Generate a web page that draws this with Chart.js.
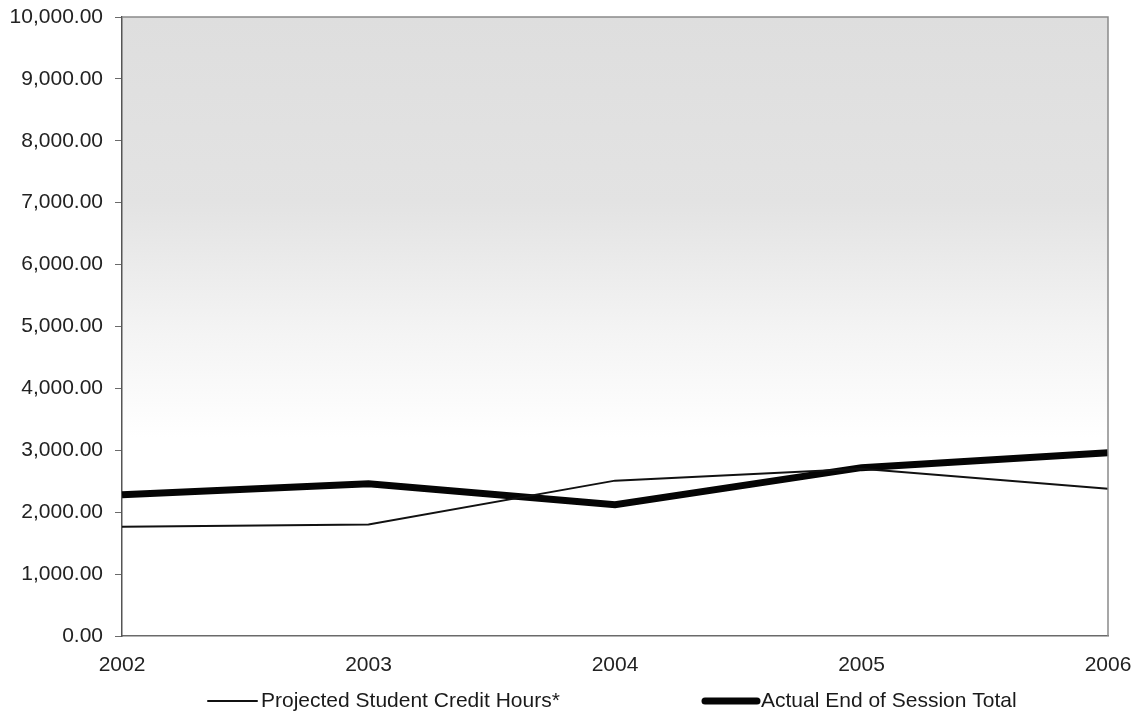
<!DOCTYPE html>
<html>
<head>
<meta charset="utf-8">
<script src="https://cdn.jsdelivr.net/npm/chart.js@4.4.1/dist/chart.umd.min.js"></script>
<style>
  html, body { margin: 0; padding: 0; background: #ffffff; }
  #grafica { display: block; }
</style>
</head>
<body>
<canvas id="grafica" width="1133" height="711"></canvas>
<script>
    // Datos de la gráfica
    const anios = ["2002", "2003", "2004", "2005", "2006"];
    const horasProyectadas = [1765, 1800, 2510, 2700, 2380];
    const totalFinalSesion = [2280, 2460, 2120, 2720, 2960];
    const etiquetasSeries = ["Projected Student Credit Hours*", "Actual End of Session Total"];

    const fuente = '"Liberation Sans", Arial, sans-serif';

    // Fondo degradado del área de la gráfica y su borde
    const fondoArea = {
        id: 'fondoArea',
        beforeDraw(chart) {
            const { ctx, chartArea: a } = chart;
            const g = ctx.createLinearGradient(0, a.top, 0, a.bottom);
            g.addColorStop(0, '#dedede');
            g.addColorStop(0.3, '#e3e3e3');
            g.addColorStop(0.5, '#f3f3f3');
            g.addColorStop(0.68, '#ffffff');
            g.addColorStop(1, '#ffffff');
            ctx.save();
            ctx.fillStyle = g;
            ctx.fillRect(a.left, a.top, a.right - a.left, a.bottom - a.top);
            ctx.restore();
        },
        afterDatasetsDraw(chart) {
            const { ctx, chartArea: a } = chart;
            ctx.save();
            ctx.strokeStyle = '#8a8a8a';
            ctx.lineWidth = 1.5;
            ctx.beginPath();
            ctx.moveTo(a.left, a.top);
            ctx.lineTo(a.right, a.top);
            ctx.lineTo(a.right, a.bottom);
            ctx.stroke();
            ctx.restore();
        }
    };

    // Leyenda dibujada a mano, como en la original (dos elementos muy separados)
    const posLeyenda = [{ x: 208, ancho: 49 }, { x: 705, ancho: 52 }];
    const leyenda = {
        id: 'leyenda',
        afterDraw(chart) {
            const ctx = chart.ctx;
            const y = 701;
            ctx.save();
            ctx.font = '21px ' + fuente;
            ctx.textBaseline = 'middle';
            ctx.fillStyle = '#1a1a1a';
            chart.data.datasets.forEach((ds, i) => {
                const p = posLeyenda[i];
                ctx.strokeStyle = ds.borderColor;
                ctx.lineWidth = ds.borderWidth;
                ctx.lineCap = 'round';
                ctx.beginPath();
                ctx.moveTo(p.x, y);
                ctx.lineTo(p.x + p.ancho, y);
                ctx.stroke();
                ctx.fillText(ds.label, p.x + p.ancho + 4, y);
            });
            ctx.restore();
        }
    };

    const ctx = document.getElementById("grafica").getContext('2d');

    const grafica = new Chart(ctx, {
        type: 'line',
        data: {
            labels: anios,
            datasets: [
                {
                    label: etiquetasSeries[0],
                    data: horasProyectadas,
                    borderColor: '#111111',
                    borderWidth: 2,
                    pointRadius: 0,
                    tension: 0
                },
                {
                    label: etiquetasSeries[1],
                    data: totalFinalSesion,
                    borderColor: '#050505',
                    borderWidth: 7,
                    pointRadius: 0,
                    tension: 0
                }
            ]
        },
        options: {
            responsive: false,
            animation: false,
            layout: {
                padding: { top: 17, right: 25, bottom: 33, left: 0 }
            },
            plugins: {
                legend: { display: false },
                tooltip: { enabled: false }
            },
            scales: {
                x: {
                    offset: false,
                    afterFit(scale) {
                        scale.height = 42;
                        scale.paddingLeft = 0;
                        scale.paddingRight = 0;
                    },
                    grid: { display: false, drawTicks: false },
                    border: { display: true, color: '#6a6a6a', width: 1.5 },
                    ticks: {
                        padding: 17,
                        color: '#222222',
                        maxRotation: 0,
                        font: { family: fuente, size: 21 }
                    }
                },
                y: {
                    min: 0,
                    max: 10000,
                    afterFit(scale) {
                        scale.width = 122;
                        scale.paddingTop = 0;
                        scale.paddingBottom = 0;
                    },
                    grid: {
                        drawOnChartArea: false,
                        drawTicks: true,
                        tickLength: 7,
                        color: '#6a6a6a'
                    },
                    border: { display: true, color: '#555555', width: 1.5 },
                    ticks: {
                        stepSize: 1000,
                        padding: 12,
                        color: '#222222',
                        font: { family: fuente, size: 21 },
                        callback: (v) => v.toLocaleString('en-US', { minimumFractionDigits: 2, maximumFractionDigits: 2 })
                    }
                }
            }
        },
        plugins: [fondoArea, leyenda]
    });
</script>
</body>
</html>
